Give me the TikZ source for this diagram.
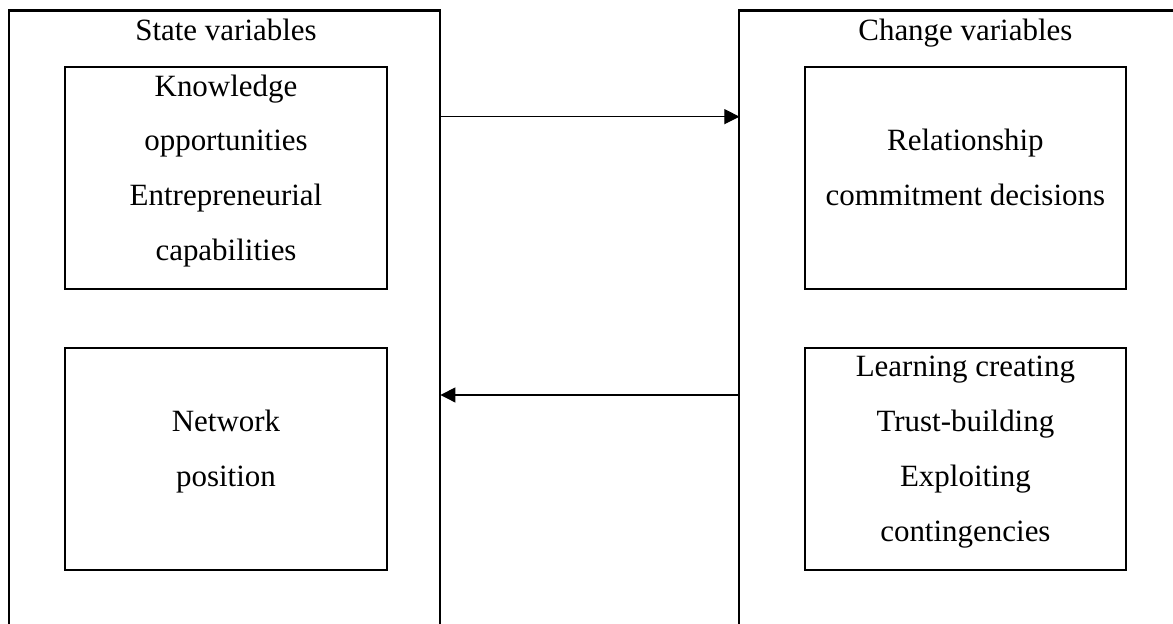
\documentclass[tikz,border=0pt]{standalone}
\usepackage{fontspec}
\setmainfont{Liberation Serif}
\usetikzlibrary{arrows.meta, positioning}

% extra depth under the last line, lifts the text a little as in the boxes
\newcommand{\lowpad}{\rule[-8pt]{0pt}{8pt}}

\begin{document}
\begin{tikzpicture}[
    node distance=22.1pt,
    frame/.style={rectangle, minimum width=167pt, minimum height=237.2pt, inner sep=0pt},
    box/.style={rectangle, draw, line width=0.78pt, minimum width=124.6pt, minimum height=86pt, inner sep=0pt, align=center, font=\fontsize{12}{21.3}\selectfont},
    title/.style={font=\fontsize{12}{14}\selectfont, inner sep=0pt, anchor=base},
    edge/.style={line width=0.78pt},
    arrow/.style={-{Triangle[length=5.8pt, width=5.8pt]}, line width=0.4pt}
]

\useasboundingbox (0,0) rectangle (454.65pt,-241.47pt);

% the two open frames
\node[frame] (state) at (87pt,-122.87pt) {};
\node[frame, minimum width=168.2pt, right=115.9pt of state] (change) {};
\draw[edge] (state.south west) |- (state.north east) -- (state.south east);
\draw[edge] (change.south west) |- (change.north east);

% boxes inside
\node[box] (kn) at (87.6pt,-69pt) {Knowledge\\opportunities\\Entrepreneurial\\capabilities\lowpad};
\node[box, below=of kn] (net) {Network\\position\lowpad};
\node[box, right=161.2pt of kn] (rel) {Relationship\\commitment decisions\lowpad};
\node[box, below=of rel] (learn) {Learning creating\\Trust-building\\Exploiting\\contingencies\lowpad};

\node[title] (statetitle) at ([yshift=10.1pt]kn.north) {State variables};
\node[title] (changetitle) at ([yshift=10.1pt]rel.north) {Change variables};

% arrows between the frames
\coordinate (upper) at ([yshift=-19.6pt]kn.north);
\coordinate (lower) at ([yshift=-18.6pt]net.north);
\draw[arrow] (state.east |- upper) -- (change.west |- upper);
\draw[arrow] (change.west |- lower) -- (state.east |- lower);

\end{tikzpicture}
\end{document}
